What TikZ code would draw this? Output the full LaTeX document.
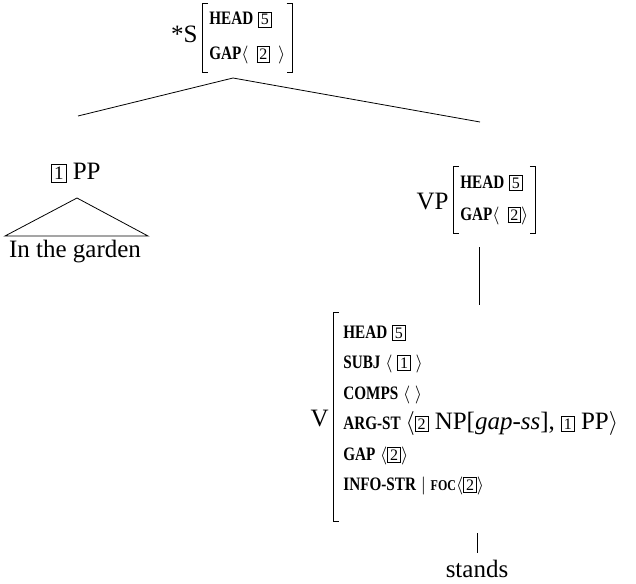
\documentclass[tikz,border=0pt]{standalone}
\usepackage{graphicx}
\usepackage{fontspec}
\setmainfont{Liberation Serif}
\newcommand\tg[2][8]{{\setlength\fboxsep{0.9pt}\setlength\fboxrule{0.5pt}\fbox{\fontsize{#1}{#1}\selectfont\mdseries#2}}}
\newcommand\ft[2][9.5]{\scalebox{0.8}[1]{\fontsize{#1}{#1}\selectfont\bfseries #2}}
\newcommand\bigtext{\fontsize{12.5}{14}\selectfont\mdseries}

\begin{document}
\begin{tikzpicture}[x=0.5pt,y=-0.5pt,
  cat/.style={inner sep=1pt, font=\fontsize{12.5}{14}\selectfont},
  avm/.style={inner xsep=3.5pt, inner ysep=4pt, align=left, font=\fontsize{9.5}{#1}\selectfont}]
\useasboundingbox (0,0) rectangle (636,583);

\node [cat, anchor=east] (slab) at (200,34) {*S};
\node [avm=17.5, anchor=west] (savm) at (202,38) {\ft{HEAD} \tg{5}\\\ft{GAP}$\langle$\, \tg{2} \,$\rangle$};
\draw ([xshift=3pt]savm.north west) -- (savm.north west) -- (savm.south west) -- ++(3pt,0);
\draw ([xshift=-3pt]savm.north east) -- (savm.north east) -- (savm.south east) -- ++(-3pt,0);

\coordinate (sroot) at (233,78);
\coordinate (ppjoin) at (78,116);
\coordinate (vpjoin) at (480,122);
\draw (ppjoin) -- (sroot) -- (vpjoin);

\node [cat] (pp) at (76,173) {\tg[9.5]{1} PP};
\coordinate (tritop) at (77,198);
\coordinate (trileft) at (5,236);
\coordinate (triright) at (148,236);
\draw (tritop) -- (trileft) -- (triright) -- cycle;
\node [cat] (garden) at (75,252) {In the garden};

\node [cat, anchor=east] (vplab) at (451,202) {VP};
\node [avm=16, anchor=west] (vpavm) at (453,200) {\ft{HEAD} \tg{5}\\\ft{GAP}$\langle$\, \tg{2}$\rangle$};
\draw ([xshift=3pt]vpavm.north west) -- (vpavm.north west) -- (vpavm.south west) -- ++(3pt,0);
\draw ([xshift=-3pt]vpavm.north east) -- (vpavm.north east) -- (vpavm.south east) -- ++(-3pt,0);

\coordinate (vpfoot) at (479,247);
\coordinate (vhead) at (479,305);
\draw (vpfoot) -- (vhead);

\node [cat, anchor=east] (vlab) at (331,418) {V};
\node [avm=15.25, inner xsep=5pt, inner ysep=6pt, anchor=west] (vavm) at (333,410) {\ft{HEAD} \tg{5}\\
\ft{SUBJ} $\langle$ \tg{1} $\rangle$\\
\ft{COMPS} $\langle$\ $\rangle$\\
\ft{ARG-ST} {\bigtext$\langle$\tg{2} NP[\textit{gap-ss}], \tg{1} PP$\rangle$}\\
\ft{GAP} $\langle$\tg{2}$\rangle$\\
\ft{INFO-STR} $|$ \ft[7.5]{FOC}$\langle$\tg{2}$\rangle$};
\draw ([xshift=3pt]vavm.north west) -- (vavm.north west) -- ([yshift=-7pt]vavm.south west) -- ++(3pt,0);

\coordinate (vfoot) at (477,533);
\node [cat, inner ysep=3.5pt] (stands) at (477,569) {stands};
\draw (vfoot) -- (stands.north);
\end{tikzpicture}
\end{document}
